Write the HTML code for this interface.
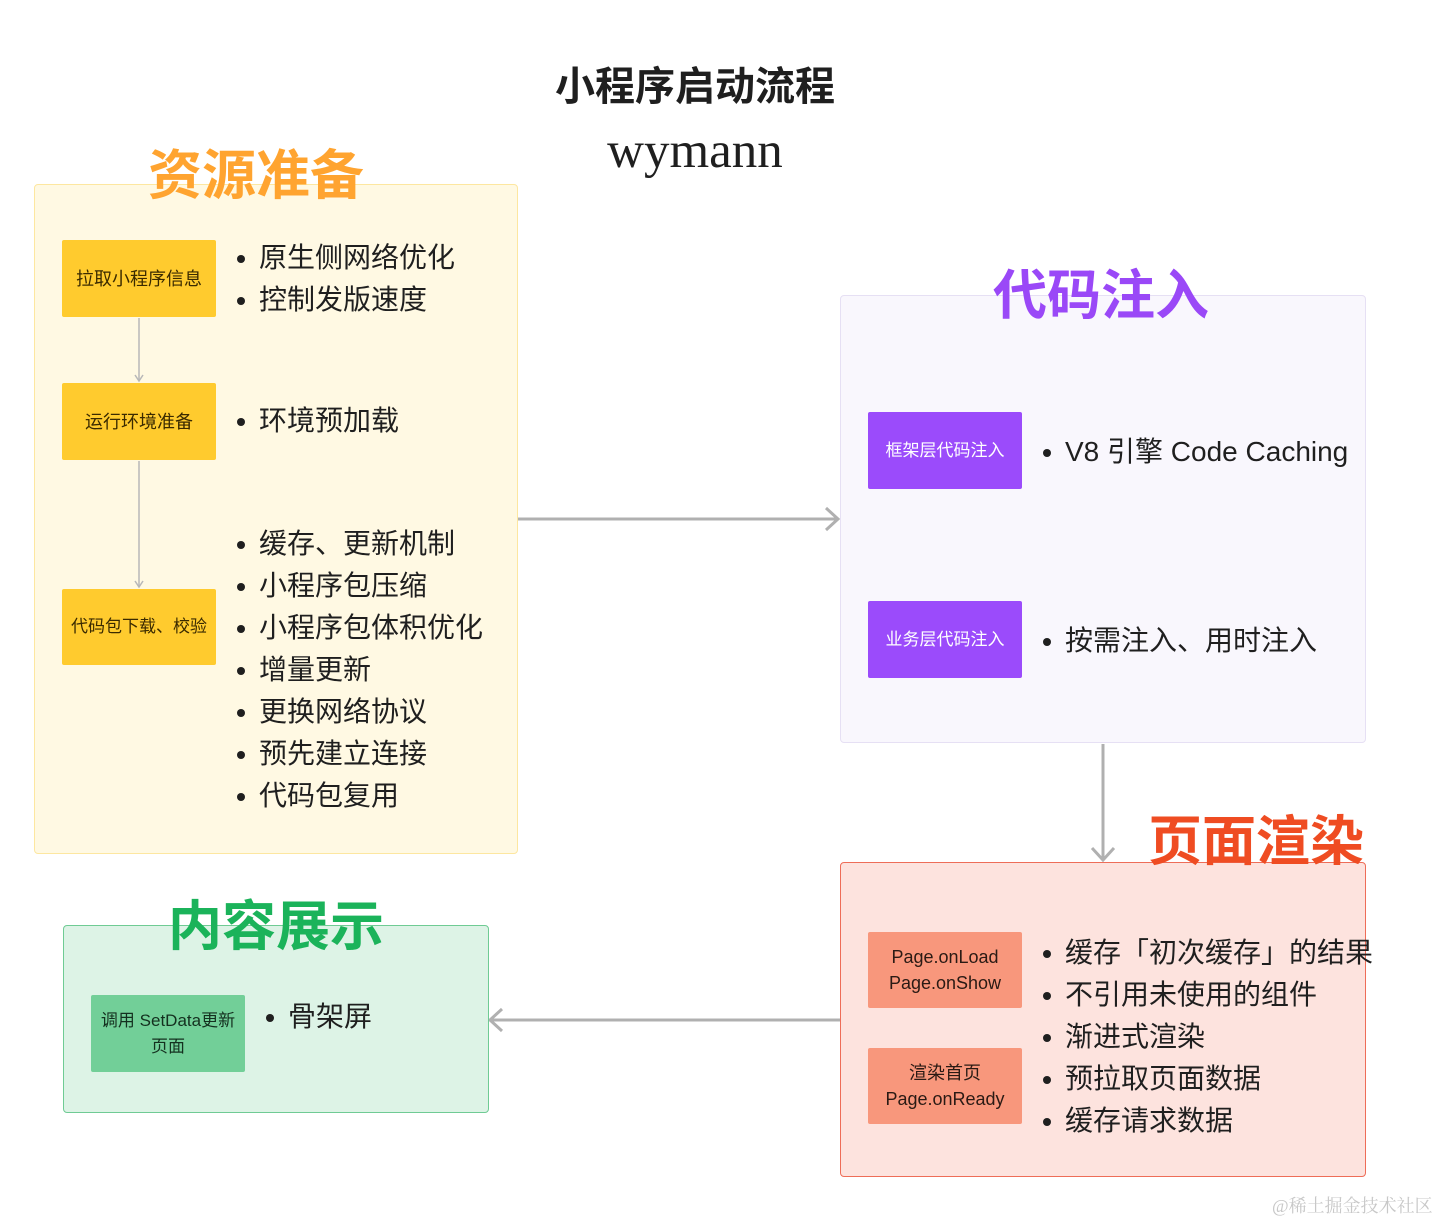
<!DOCTYPE html>
<html><head><meta charset="utf-8"><style>
*{margin:0;padding:0;box-sizing:border-box}
body{width:1438px;height:1220px;background:#fff;position:relative;overflow:hidden;font-family:"Liberation Sans","Noto Sans CJK SC",sans-serif;color:#1f1f1f}
.a{position:absolute}
.panel{position:absolute;border-radius:4px;border:1px solid}
.node{position:absolute;display:flex;align-items:center;justify-content:center;text-align:center;font-size:18px;line-height:26px;border-radius:2px;color:#3a2a00}
.title{position:absolute;font-weight:bold;font-size:54px;line-height:60px;white-space:nowrap}
.li{position:absolute;font-size:28px;line-height:30px;white-space:nowrap}
.li::before{content:"";position:absolute;left:-22px;top:12px;width:8px;height:8px;border-radius:50%;background:#1f1f1f}
</style></head><body>
<div class="a" style="left:0;width:1390px;top:62px;text-align:center;font-size:40px;font-weight:bold;line-height:50px">小程序启动流程</div>
<div class="a" style="left:0;width:1390px;top:121px;text-align:center;font-size:51px;font-family:'Liberation Serif',serif;line-height:60px">wymann</div>

<!-- yellow -->
<div class="panel" style="left:34px;top:184px;width:484px;height:670px;background:#fff9e3;border-color:#fde7a0"></div>
<div class="title" style="left:148px;top:146px;color:#ffa430">资源准备</div>
<div class="node" style="left:62px;top:240px;width:154px;height:77px;background:#ffcb2e">拉取小程序信息</div>
<div class="node" style="left:62px;top:383px;width:154px;height:77px;background:#ffcb2e">运行环境准备</div>
<div class="node" style="left:62px;top:589px;width:154px;height:76px;background:#ffcb2e;font-size:17px">代码包下载、校验</div>
<svg class="a" style="left:0;top:0" width="1438" height="1220">
<g stroke="#b8b8b8" fill="none" stroke-width="1.5">
<line x1="139" y1="318" x2="139" y2="381"/><polyline points="135,375 139,381 143,375"/>
<line x1="139" y1="461" x2="139" y2="587"/><polyline points="135,581 139,587 143,581"/>
</g>
<g stroke="#b0b0b0" fill="none" stroke-width="3">
<line x1="518" y1="519" x2="838" y2="519"/><polyline points="826,508 838,519 826,530"/>
<line x1="1103" y1="744" x2="1103" y2="860"/><polyline points="1092,848 1103,860 1114,848"/>
<line x1="840" y1="1020" x2="490" y2="1020"/><polyline points="502,1009 490,1020 502,1031"/>
</g>
</svg>
<div class="li" style="left:259px;top:243px">原生侧网络优化</div>
<div class="li" style="left:259px;top:285px">控制发版速度</div>
<div class="li" style="left:259px;top:406px">环境预加载</div>
<div class="li" style="left:259px;top:529px">缓存、更新机制</div>
<div class="li" style="left:259px;top:571px">小程序包压缩</div>
<div class="li" style="left:259px;top:613px">小程序包体积优化</div>
<div class="li" style="left:259px;top:655px">增量更新</div>
<div class="li" style="left:259px;top:697px">更换网络协议</div>
<div class="li" style="left:259px;top:739px">预先建立连接</div>
<div class="li" style="left:259px;top:781px">代码包复用</div>

<!-- purple -->
<div class="panel" style="left:840px;top:295px;width:526px;height:448px;background:#f9f7fd;border-color:#e6e0f4"></div>
<div class="title" style="left:993px;top:266px;color:#9a48f7">代码注入</div>
<div class="node" style="left:868px;top:412px;width:154px;height:77px;background:#9b4bfb;color:#fff;font-size:17px">框架层代码注入</div>
<div class="node" style="left:868px;top:601px;width:154px;height:77px;background:#9b4bfb;color:#fff;font-size:17px">业务层代码注入</div>
<div class="li" style="left:1065px;top:437px">V8 引擎 Code Caching</div>
<div class="li" style="left:1065px;top:626px">按需注入、用时注入</div>

<!-- red -->
<div class="panel" style="left:840px;top:862px;width:526px;height:315px;background:#fde3de;border-color:#ee6d58"></div>
<div class="title" style="left:1148px;top:812px;color:#ef4c22">页面渲染</div>
<div class="node" style="left:868px;top:932px;width:154px;height:76px;background:#f8977c;color:#2a1a14">Page.onLoad<br>Page.onShow</div>
<div class="node" style="left:868px;top:1048px;width:154px;height:76px;background:#f8977c;color:#2a1a14">渲染首页<br>Page.onReady</div>
<div class="li" style="left:1065px;top:938px">缓存「初次缓存」的结果</div>
<div class="li" style="left:1065px;top:980px">不引用未使用的组件</div>
<div class="li" style="left:1065px;top:1022px">渐进式渲染</div>
<div class="li" style="left:1065px;top:1064px">预拉取页面数据</div>
<div class="li" style="left:1065px;top:1106px">缓存请求数据</div>

<!-- green -->
<div class="panel" style="left:63px;top:925px;width:426px;height:188px;background:#ddf3e6;border-color:#6fcb94"></div>
<div class="title" style="left:168px;top:897px;color:#1bb35a">内容展示</div>
<div class="node" style="left:91px;top:995px;width:154px;height:77px;background:#72cf98;color:#14301f;font-size:17px">调用 SetData更新<br>页面</div>
<div class="li" style="left:288px;top:1002px">骨架屏</div>

<div class="a" style="left:1272px;top:1192px;font-size:18px;color:#c8c8c8;font-family:'Liberation Serif','Noto Serif CJK SC',serif">@稀土掘金技术社区</div>
</body></html>
